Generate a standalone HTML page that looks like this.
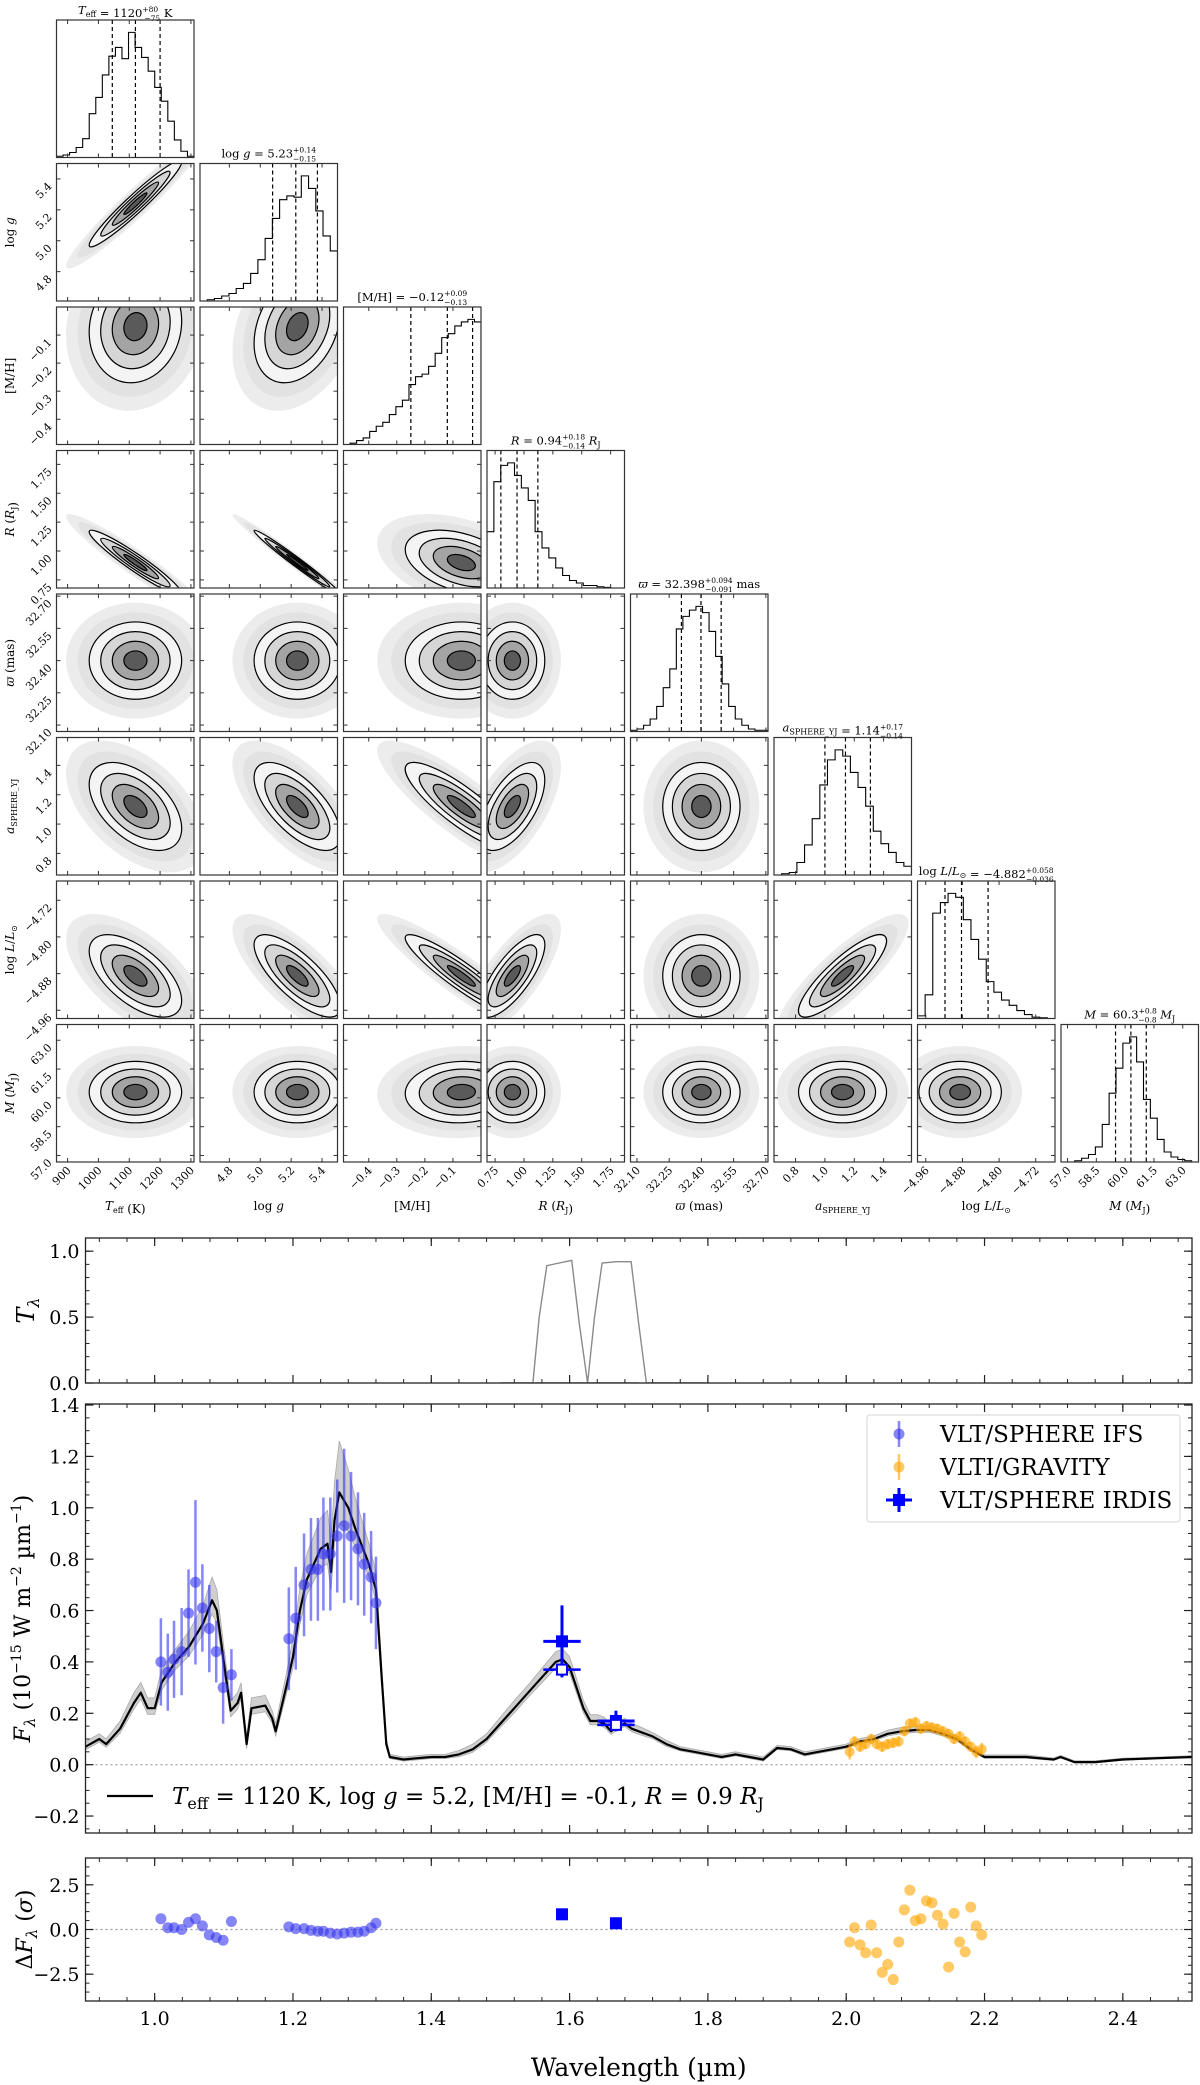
<!DOCTYPE html>
<html><head><meta charset="utf-8"><title>Posterior corner plot and SED fit</title>
<style>
html,body{margin:0;padding:0;background:#fff;}
svg{display:block;font-family:"DejaVu Serif","Liberation Serif",serif;}
</style></head>
<body>
<svg id="fig" xmlns="http://www.w3.org/2000/svg" width="1200" height="2085" viewBox="0 0 1200 2085">
<defs id="defs"></defs>
<g id="corner"></g>
<g id="spec"></g>
</svg>
<script>
// ---------------- Corner plot data ----------------
const paramNames = ['Teff','logg','MH','R','plx','a','L','M'];
const axisLow  = [864, 4.61, -0.49, 0.68, 32.07, 0.653, -4.978, 56.66];
const axisHigh = [1310, 5.50, 0.0, 1.87, 32.71, 1.59, -4.678, 63.82];
const tickTeff = [900,1000,1100,1200,1300];
const tickLogg = [4.8,5.0,5.2,5.4];
const tickMH   = [-0.4,-0.3,-0.2,-0.1];
const tickR    = [0.75,1.00,1.25,1.50,1.75];
const tickPlx  = [32.10,32.25,32.40,32.55,32.70];
const tickA    = [0.8,1.0,1.2,1.4];
const tickL    = [-4.96,-4.88,-4.80,-4.72];
const tickM    = [57.0,58.5,60.0,61.5,63.0];
const tickDecimals = [0,1,1,2,2,1,2,1];
const medians = [1120, 5.23, -0.12, 0.94, 32.398, 1.14, -4.882, 60.3];
const errLow  = [75, 0.15, 0.13, 0.14, 0.091, 0.14, 0.036, 0.8];
const errHigh = [80, 0.14, 0.09, 0.18, 0.094, 0.17, 0.058, 0.8];
const cloudCenter = [1120, 5.24, -0.07, 0.90, 32.40, 1.12, -4.885, 60.3];
const cloudSpread = [75, 0.14, 0.10, 0.14, 0.09, 0.15, 0.045, 0.8];
const corrLogg = [0.96];
const corrMH   = [0.1, 0.3];
const corrR    = [-0.95, -0.985, -0.4];
const corrPlx  = [0, 0, 0, 0];
const corrA    = [-0.5, -0.65, -0.85, 0.6, 0];
const corrL    = [-0.6, -0.75, -0.92, 0.75, 0, 0.85];
const corrM    = [0, 0, 0.05, 0, 0, 0, 0];
const histTeff = [0.01,0.02,0.04,0.08,0.15,0.35,0.48,0.66,0.81,0.88,0.79,1.0,0.88,0.80,0.69,0.56,0.45,0.29,0.14,0.05,0.01];
const histLogg = [0,0.01,0.02,0.04,0.06,0.10,0.14,0.22,0.33,0.50,0.66,0.81,0.84,0.83,1.0,0.90,0.72,0.52,0.40];
const histMH   = [0,0.01,0.03,0.05,0.10,0.14,0.17,0.23,0.29,0.34,0.46,0.52,0.54,0.60,0.70,0.82,0.85,0.91,0.94,0.96,0.94];
const histR    = [0.45,0.85,0.98,1.0,0.9,0.8,0.7,0.45,0.32,0.24,0.16,0.1,0.06,0.04,0.02,0.02,0.01,0.005,0,0];
const histPlx  = [0.01,0.02,0.05,0.1,0.2,0.35,0.5,0.82,0.92,0.97,1.0,0.95,0.8,0.6,0.38,0.2,0.1,0.05,0.02,0.01,0.01];
const histA    = [0,0.01,0.02,0.1,0.24,0.45,0.72,0.92,1.0,0.95,0.82,0.7,0.55,0.35,0.25,0.18,0.1,0.07];
const histL    = [0.02,0.18,0.8,0.88,0.95,0.92,0.75,0.6,0.45,0.28,0.2,0.14,0.1,0.06,0.03,0.01,0.005,0];
const histM    = [0,0,0.01,0.03,0.06,0.12,0.3,0.55,0.75,0.95,1.0,0.8,0.5,0.35,0.18,0.08,0.04,0.02,0.01,0];

// ---------------- Spectrum data ----------------
const specWave = [0.90,0.92,0.93,0.95,0.97,0.98,0.99,1.00,1.01,1.03,1.05,1.07,1.083,1.09,1.10,1.11,1.12,1.125,1.133,1.14,1.16,1.17,1.175,1.19,1.20,1.21,1.22,1.24,1.25,1.255,1.26,1.267,1.28,1.29,1.30,1.31,1.32,1.328,1.335,1.34,1.36,1.38,1.40,1.42,1.44,1.46,1.48,1.50,1.52,1.54,1.56,1.58,1.59,1.60,1.61,1.62,1.63,1.64,1.65,1.66,1.67,1.68,1.69,1.70,1.72,1.74,1.76,1.78,1.80,1.82,1.84,1.86,1.88,1.90,1.92,1.94,1.96,1.98,2.00,2.02,2.04,2.06,2.08,2.10,2.12,2.14,2.16,2.18,2.20,2.22,2.26,2.30,2.31,2.33,2.36,2.40,2.45,2.50];
const specFlux = [0.07,0.10,0.08,0.14,0.24,0.28,0.22,0.22,0.32,0.40,0.46,0.55,0.64,0.60,0.40,0.21,0.24,0.28,0.08,0.22,0.23,0.18,0.13,0.30,0.42,0.60,0.72,0.84,0.86,0.75,0.95,1.06,1.00,0.92,0.85,0.78,0.68,0.35,0.08,0.03,0.02,0.025,0.03,0.03,0.04,0.06,0.10,0.16,0.22,0.28,0.34,0.40,0.41,0.38,0.30,0.22,0.17,0.17,0.16,0.13,0.15,0.16,0.14,0.13,0.11,0.08,0.06,0.05,0.04,0.03,0.04,0.03,0.02,0.065,0.06,0.04,0.05,0.06,0.07,0.09,0.10,0.12,0.13,0.135,0.135,0.12,0.10,0.06,0.03,0.03,0.03,0.02,0.03,0.01,0.01,0.02,0.025,0.03];
const specSpread = [0.02,0.02,0.02,0.03,0.04,0.04,0.04,0.04,0.05,0.05,0.06,0.07,0.09,0.08,0.06,0.04,0.04,0.04,0.03,0.04,0.04,0.03,0.03,0.05,0.07,0.09,0.10,0.12,0.13,0.12,0.15,0.20,0.15,0.12,0.10,0.08,0.07,0.05,0.02,0.01,0.01,0.01,0.01,0.01,0.015,0.02,0.02,0.025,0.03,0.03,0.035,0.04,0.04,0.04,0.035,0.03,0.025,0.025,0.025,0.02,0.02,0.02,0.02,0.02,0.015,0.015,0.01,0.01,0.01,0.01,0.01,0.01,0.01,0.01,0.01,0.01,0.01,0.01,0.01,0.012,0.012,0.014,0.015,0.015,0.015,0.014,0.012,0.01,0.008,0.008,0.008,0.006,0.006,0.005,0.005,0.005,0.005,0.005];
const ifsWave = [1.009,1.019,1.028,1.039,1.049,1.059,1.069,1.079,1.089,1.099,1.111,1.194,1.204,1.216,1.226,1.236,1.244,1.254,1.264,1.274,1.284,1.294,1.303,1.313,1.320];
const ifsFlux = [0.40,0.36,0.41,0.44,0.59,0.71,0.61,0.53,0.44,0.30,0.35,0.49,0.57,0.70,0.76,0.76,0.82,0.82,0.89,0.93,0.89,0.84,0.78,0.73,0.63];
const ifsErr  = [0.17,0.15,0.15,0.17,0.17,0.32,0.17,0.17,0.12,0.14,0.10,0.20,0.20,0.20,0.20,0.20,0.22,0.22,0.22,0.30,0.25,0.22,0.20,0.18,0.18];
const ifsResid = [0.6,0.1,0.1,0.0,0.4,0.6,0.2,-0.3,-0.45,-0.6,0.45,0.15,0.05,0.05,-0.05,-0.1,-0.1,-0.2,-0.25,-0.2,-0.15,-0.15,-0.1,0.1,0.35];
const gravWave = [2.005,2.012,2.020,2.028,2.036,2.044,2.052,2.060,2.068,2.076,2.084,2.092,2.100,2.108,2.116,2.124,2.132,2.140,2.148,2.156,2.164,2.172,2.180,2.188,2.196];
const gravFlux = [0.05,0.09,0.07,0.08,0.10,0.08,0.07,0.08,0.085,0.09,0.13,0.16,0.165,0.14,0.15,0.145,0.14,0.13,0.12,0.10,0.11,0.09,0.07,0.05,0.06];
const gravErr  = [0.03,0.02,0.02,0.02,0.02,0.02,0.02,0.02,0.02,0.02,0.02,0.02,0.02,0.02,0.02,0.02,0.02,0.02,0.02,0.02,0.02,0.02,0.02,0.025,0.025];
const gravResid = [-0.7,0.1,-0.85,-1.3,0.25,-1.3,-2.4,-1.95,-2.8,-0.7,1.1,2.2,0.5,0.6,1.6,1.5,0.8,0.3,-2.1,0.9,-0.7,-1.25,1.25,0.2,-0.3];
const irdisWave = [1.589, 1.667];
const irdisWidth = [0.027, 0.027];
const irdisFlux = [0.48, 0.17];
const irdisErr = [0.14, 0.04];
const irdisModel = [0.37, 0.155];
const irdisResid = [0.85, 0.35];
const h2Wave = [1.50,1.547,1.556,1.567,1.585,1.603,1.614,1.626,1.70];
const h2Trans = [0,0,0.5,0.89,0.91,0.93,0.45,0,0];
const h3Wave = [1.55,1.626,1.636,1.647,1.668,1.689,1.700,1.711,1.80];
const h3Trans = [0,0,0.5,0.91,0.92,0.92,0.45,0,0];
const waveTicks = [1.0,1.2,1.4,1.6,1.8,2.0,2.2,2.4];
const transTicks = [0.0,0.5,1.0];
const fluxTicks = [-0.2,0.0,0.2,0.4,0.6,0.8,1.0,1.2,1.4];
const residTicks = [-2.5,0.0,2.5];

const NS = 'http://www.w3.org/2000/svg';
function mk(tag, attrs, parent){ const e=document.createElementNS(NS,tag); for(const k in attrs) e.setAttribute(k, attrs[k]); parent.appendChild(e); return e; }
function fmt(v,d){ return v.toFixed(d).replace('-','\u2212'); }

// ============== CORNER ==============
const corner = document.getElementById('corner');
const defs = document.getElementById('defs');
const tickSets = [tickTeff,tickLogg,tickMH,tickR,tickPlx,tickA,tickL,tickM];
const hists = [histTeff,histLogg,histMH,histR,histPlx,histA,histL,histM];
const corrRows = [[],corrLogg,corrMH,corrR,corrPlx,corrA,corrL,corrM];
const sub = (t)=>'<tspan font-size="8" dy="3">'+t+'</tspan><tspan dy="-3"></tspan>';
const it = (t)=>'<tspan font-style="italic">'+t+'</tspan>';
const axisLabels = [
  it('T')+sub('eff')+' (K)',
  'log '+it('g'),
  '[M/H]',
  it('R')+' ('+it('R')+sub('J')+')',
  it('ϖ')+' (mas)',
  it('a')+sub('SPHERE_YJ'),
  'log '+it('L')+'/'+it('L')+sub('⊙'),
  it('M')+' ('+it('M')+sub('J')+')'
];
const titlePrefix = [it('T')+sub('eff')+' = ', 'log '+it('g')+' = ', '[M/H] = ', it('R')+' = ', it('ϖ')+' = ', it('a')+sub('SPHERE_YJ')+' = ', 'log '+it('L')+'/'+it('L')+sub('⊙')+' = ', it('M')+' = '];
const titleVal = ['1120','5.23','\u22120.12','0.94','32.398','1.14','\u22124.882','60.3'];
const titlePlus = ['+80','+0.14','+0.09','+0.18','+0.094','+0.17','+0.058','+0.8'];
const titleMinus = ['\u221275','\u22120.15','\u22120.13','\u22120.14','\u22120.091','\u22120.14','\u22120.036','\u22120.8'];
const titleUnit = [' K','','',' '+it('R')+sub('J'),' mas','','',' '+it('M')+sub('J')];

const CX0=56.5, CY0=20, CS=137.5, CP=143.5;
function cx(j,v){ return CX0+j*CP+(v-axisLow[j])/(axisHigh[j]-axisLow[j])*CS; }
function cy(i,v){ return CY0+i*CP+CS-(v-axisLow[i])/(axisHigh[i]-axisLow[i])*CS; }

for(let i=0;i<8;i++){
  for(let j=0;j<=i;j++){
    const px=CX0+j*CP, py=CY0+i*CP;
    const g = mk('g',{},corner);
    
    
    const cp = mk('clipPath',{id:'cp'+i+'_'+j},defs);
    mk('rect',{x:px,y:py,width:CS,height:CS},cp);
    const inner = mk('g',{'clip-path':'url(#cp'+i+'_'+j+')'},g);
    if(i===j){
      const h = hists[i], n=h.length, bw=CS/n, mx=Math.max(...h);
      let d='M'+px+','+(py+CS);
      for(let k=0;k<n;k++){ const y=py+CS-h[k]/mx*CS*0.91; d+=' L'+(px+k*bw)+','+y+' L'+(px+(k+1)*bw)+','+y; }
      d+=' L'+(px+CS)+','+(py+CS);
      const p = mk('path',{d:d,fill:'none',stroke:'#000','stroke-width':1.1},inner);
      
      
      [medians[i]-errLow[i], medians[i], medians[i]+errHigh[i]].forEach(v=>{
        const x=cx(j,v);
        const l = mk('line',{x1:x,x2:x,y1:py,y2:py+CS,stroke:'#000','stroke-width':1.2,'stroke-dasharray':'4,3'},inner);
        
        
      });
      const t = mk('text',{x:px+CS/2,y:py-6,'text-anchor':'middle','font-size':11.5},g);
      const uid=i;
      t.innerHTML = titlePrefix[i]+titleVal[i]+'<tspan font-size="7.5" dy="-5">'+titlePlus[i]+'</tspan><tspan font-size="7.5" dx="-'+(titlePlus[i].length*4.6)+'" dy="9">'+titleMinus[i]+'</tspan><tspan dy="-4">'+titleUnit[i]+'</tspan>';
      
      
    } else {
      const rho = corrRows[i][j];
      const sxp = cloudSpread[j]/(axisHigh[j]-axisLow[j])*CS;
      const syp = cloudSpread[i]/(axisHigh[i]-axisLow[i])*CS;
      const a=sxp*sxp, c=syp*syp, b=-rho*sxp*syp;
      const th = 0.5*Math.atan2(2*b, a-c)*180/Math.PI;
      const m=(a+c)/2, r=Math.sqrt(((a-c)/2)**2+b*b);
      const rx=Math.sqrt(m+r), ry=Math.sqrt(Math.max(m-r,0.4));
      const ex=cx(j,cloudCenter[j]), ey=cy(i,cloudCenter[i]);
      const levels=[[3.0,'#ececec','none'],[2.5,'#e2e2e2','none'],[2.0,'#f4f4f4','#000'],[1.5,'#d6d6d6','#000'],[1.0,'#a4a4a4','#000'],[0.5,'#5a5a5a','#000']];
      levels.forEach(L=>{
        const e = mk('ellipse',{cx:ex,cy:ey,rx:rx*L[0],ry:ry*L[0],fill:L[1],stroke:L[2],'stroke-width':1.2,transform:'rotate('+th+' '+ex+' '+ey+')'},inner);
        
        
      });
    }
    const fr = mk('rect',{x:px,y:py,width:CS,height:CS,fill:'none',stroke:'#333','stroke-width':1.2},g);
    
    
    tickSets[j].forEach(v=>{ const x=cx(j,v);
      mk('line',{x1:x,x2:x,y1:py,y2:py+4,stroke:'#333','stroke-width':1},g);
      mk('line',{x1:x,x2:x,y1:py+CS,y2:py+CS-4,stroke:'#333','stroke-width':1},g); });
    if(i!==j) tickSets[i].forEach(v=>{ const y=cy(i,v);
      mk('line',{x1:px,x2:px+4,y1:y,y2:y,stroke:'#333','stroke-width':1},g);
      mk('line',{x1:px+CS,x2:px+CS-4,y1:y,y2:y,stroke:'#333','stroke-width':1},g); });
    if(i===7){
      tickSets[j].forEach(v=>{ const x=cx(j,v)+4, y=py+CS+9;
        const t=mk('text',{x:x,y:y,'text-anchor':'end','font-size':11,transform:'rotate(-45 '+x+' '+y+')'},g);
        t.textContent=fmt(v,tickDecimals[j]);
        
         });
      const xl=mk('text',{x:px+CS/2,y:1210,'text-anchor':'middle','font-size':12},g);
      xl.innerHTML=axisLabels[j];
      
      
    }
    if(j===0 && i>0){
      tickSets[i].forEach(v=>{ const x=px-4, y=cy(i,v)+8;
        const t=mk('text',{x:x,y:y,'text-anchor':'end','font-size':11,transform:'rotate(-45 '+x+' '+y+')'},g);
        t.textContent=fmt(v,tickDecimals[i]);
        
         });
      const yx=14, yy=py+CS/2;
      const yl=mk('text',{x:yx,y:yy,'text-anchor':'middle','font-size':12,transform:'rotate(-90 '+yx+' '+yy+')'},g);
      yl.innerHTML=axisLabels[i];
      
      
    }
  }
}

// ============== SPECTRUM ==============
const spec = document.getElementById('spec');
const XL=85.5, XR=1192, WMIN=0.9, WMAX=2.5;
function X(w){ return XL+(w-WMIN)/(WMAX-WMIN)*(XR-XL); }
const panels = {
  trans:{top:1238,bot:1383,min:0,max:1.1,ticks:transTicks,minor:0.1,dec:1},
  flux:{top:1404,bot:1833,min:-0.266,max:1.404,ticks:fluxTicks,minor:0.05,dec:1},
  resid:{top:1858,bot:2001,min:-4,max:4,ticks:residTicks,minor:0.5,dec:1}
};
function Y(p,v){ return p.bot-(v-p.min)/(p.max-p.min)*(p.bot-p.top); }
function axes(p,name,showX){
  const g=mk('g',{},spec);
  
  
  for(let w=0.92;w<2.5;w+=0.04){ const x=X(w);
    mk('line',{x1:x,x2:x,y1:p.bot,y2:p.bot-4,stroke:'#222','stroke-width':1},g);
    mk('line',{x1:x,x2:x,y1:p.top,y2:p.top+4,stroke:'#222','stroke-width':1},g); }
  waveTicks.forEach(w=>{ const x=X(w);
    mk('line',{x1:x,x2:x,y1:p.bot,y2:p.bot-8,stroke:'#222','stroke-width':1.2},g);
    mk('line',{x1:x,x2:x,y1:p.top,y2:p.top+8,stroke:'#222','stroke-width':1.2},g);
    if(showX){ const t=mk('text',{x:x,y:2025,'text-anchor':'middle','font-size':19},g); t.textContent=w.toFixed(1);
      
       } });
  const start=Math.ceil(p.min/p.minor)*p.minor;
  for(let v=start; v<=p.max+1e-9; v+=p.minor){ const y=Y(p,v);
    mk('line',{x1:XL,x2:XL+4,y1:y,y2:y,stroke:'#222','stroke-width':1},g);
    mk('line',{x1:XR,x2:XR-4,y1:y,y2:y,stroke:'#222','stroke-width':1},g); }
  p.ticks.forEach(v=>{ const y=Y(p,v);
    mk('line',{x1:XL,x2:XL+8,y1:y,y2:y,stroke:'#222','stroke-width':1.2},g);
    mk('line',{x1:XR,x2:XR-8,y1:y,y2:y,stroke:'#222','stroke-width':1.2},g);
    const t=mk('text',{x:XL-6,y:y+7,'text-anchor':'end','font-size':19},g); t.textContent=fmt(v,p.dec);
    
     });
  const fr=mk('rect',{x:XL,y:p.top,width:XR-XL,height:p.bot-p.top,fill:'none',stroke:'#222','stroke-width':1.3},g);
  
  
}
function clip(p,id){ const c=mk('clipPath',{id:id},defs); mk('rect',{x:XL,y:p.top,width:XR-XL,height:p.bot-p.top},c); return 'url(#'+id+')'; }
function pathOf(p,ws,vs){ return ws.map((w,k)=>(k?'L':'M')+X(w).toFixed(1)+','+Y(p,vs[k]).toFixed(1)).join(' '); }

// Transmission panel
{
  const p=panels.trans;
  const g=mk('g',{'clip-path':clip(p,'ctr')},spec);
  
  
  const a=mk('path',{d:pathOf(p,h2Wave,h2Trans),fill:'none',stroke:'#8a8a8a','stroke-width':1.4},g);
  
  
  const b=mk('path',{d:pathOf(p,h3Wave,h3Trans),fill:'none',stroke:'#8a8a8a','stroke-width':1.4},g);
  
  
  axes(p,'transmission',false);
  const t=mk('text',{x:34,y:(p.top+p.bot)/2,'text-anchor':'middle','font-size':24,transform:'rotate(-90 34 '+(p.top+p.bot)/2+')'},spec);
  t.innerHTML='<tspan font-style="italic">T</tspan><tspan font-size="16" font-style="italic" dy="5">λ</tspan>';
  
  
}
// Flux panel
{
  const p=panels.flux;
  const g=mk('g',{'clip-path':clip(p,'cfl')},spec);
  
  
  const z=mk('line',{x1:XL,x2:XR,y1:Y(p,0),y2:Y(p,0),stroke:'#999','stroke-width':1.2,'stroke-dasharray':'2,3'},g);
  
  
  let d=specWave.map((w,k)=>(k?'L':'M')+X(w).toFixed(1)+','+Y(p,specFlux[k]+specSpread[k]).toFixed(1)).join(' ');
  for(let k=specWave.length-1;k>=0;k--) d+=' L'+X(specWave[k]).toFixed(1)+','+Y(p,specFlux[k]-specSpread[k]*0.6).toFixed(1);
  const band=mk('path',{d:d+' Z',fill:'#cfcfcf',stroke:'#aaa','stroke-width':0.8},g);
  
  
  const ml=mk('path',{d:pathOf(p,specWave,specFlux),fill:'none',stroke:'#000','stroke-width':2.2,'stroke-linejoin':'round'},g);
  
  
  ifsWave.forEach((w,k)=>{ const x=X(w);
    const e=mk('line',{x1:x,x2:x,y1:Y(p,ifsFlux[k]-ifsErr[k]),y2:Y(p,ifsFlux[k]+ifsErr[k]),stroke:'#3333ee','stroke-opacity':0.6,'stroke-width':2.5},g);
    
    
    const c=mk('circle',{cx:x,cy:Y(p,ifsFlux[k]),r:5.5,fill:'#3333ee','fill-opacity':0.6},g);
    
     });
  gravWave.forEach((w,k)=>{ const x=X(w);
    const e=mk('line',{x1:x,x2:x,y1:Y(p,gravFlux[k]-gravErr[k]),y2:Y(p,gravFlux[k]+gravErr[k]),stroke:'#ffa500','stroke-opacity':0.6,'stroke-width':2.5},g);
    
    
    const c=mk('circle',{cx:x,cy:Y(p,gravFlux[k]),r:5,fill:'#ffa500','fill-opacity':0.6},g);
    
     });
  irdisWave.forEach((w,k)=>{ const x=X(w), y=Y(p,irdisFlux[k]);
    const ex=mk('line',{x1:X(w-irdisWidth[k]),x2:X(w+irdisWidth[k]),y1:y,y2:y,stroke:'#0000ff','stroke-width':3},g);
    
    
    const ey=mk('line',{x1:x,x2:x,y1:Y(p,irdisFlux[k]-irdisErr[k]),y2:Y(p,irdisFlux[k]+irdisErr[k]),stroke:'#0000ff','stroke-width':3},g);
    
    
    const s=mk('rect',{x:x-6,y:y-6,width:12,height:12,fill:'#0000ff'},g);
    
    
    const ym=Y(p,irdisModel[k]);
    const mx=mk('line',{x1:X(w-irdisWidth[k]),x2:X(w+irdisWidth[k]),y1:ym,y2:ym,stroke:'#0000ff','stroke-width':2.5},g);
    
    
    const o=mk('rect',{x:x-5,y:ym-5,width:10,height:10,fill:'#fff',stroke:'#0000ff','stroke-width':2},g);
    
     });
  axes(p,'flux',false);
  const cy0=(p.top+p.bot)/2;
  const t=mk('text',{x:30,y:cy0,'text-anchor':'middle','font-size':22,transform:'rotate(-90 30 '+cy0+')'},spec);
  t.innerHTML='<tspan font-style="italic">F</tspan><tspan font-size="15" font-style="italic" dy="5">λ</tspan><tspan dy="-5"> (10</tspan><tspan font-size="14" dy="-9">−15</tspan><tspan dy="9"> W m</tspan><tspan font-size="14" dy="-9">−2</tspan><tspan dy="9"> µm</tspan><tspan font-size="14" dy="-9">−1</tspan><tspan dy="9">)</tspan>';
  
  
  // legend
  const lg=mk('g',{},spec);
  
  
  mk('rect',{x:867,y:1415,width:313,height:107,rx:3,fill:'#fff','fill-opacity':0.85,stroke:'#ddd','stroke-width':1.2},lg);
  const entries=[['VLT/SPHERE IFS',1442],['VLTI/GRAVITY',1475],['VLT/SPHERE IRDIS',1508]];
  entries.forEach((en,k)=>{
    const e=mk('g',{},lg);
    
    
    const yc=en[1]-8;
    if(k===0){ mk('line',{x1:899,x2:899,y1:yc-13,y2:yc+13,stroke:'#3333ee','stroke-opacity':0.6,'stroke-width':2.5},e); mk('circle',{cx:899,cy:yc,r:5.5,fill:'#3333ee','fill-opacity':0.6},e); }
    if(k===1){ mk('line',{x1:899,x2:899,y1:yc-13,y2:yc+13,stroke:'#ffa500','stroke-opacity':0.6,'stroke-width':2.5},e); mk('circle',{cx:899,cy:yc,r:5.5,fill:'#ffa500','fill-opacity':0.6},e); }
    if(k===2){ mk('line',{x1:886,x2:912,y1:yc,y2:yc,stroke:'#0000ff','stroke-width':3},e); mk('line',{x1:899,x2:899,y1:yc-12,y2:yc+12,stroke:'#0000ff','stroke-width':3},e); mk('rect',{x:893,y:yc-6,width:12,height:12,fill:'#0000ff'},e); }
    const t=mk('text',{x:940,y:en[1],'font-size':23},e); t.textContent=en[0];
  });
  const ml2=mk('g',{},spec);
  
  
  mk('line',{x1:107,x2:153,y1:1796,y2:1796,stroke:'#000','stroke-width':2.2},ml2);
  const mt=mk('text',{x:172,y:1804,'font-size':23},ml2);
  mt.innerHTML='<tspan font-style="italic">T</tspan><tspan font-size="16" dy="5">eff</tspan><tspan dy="-5"> = 1120 K, log</tspan><tspan font-style="italic"> g</tspan> = 5.2, [M/H] = -0.1, <tspan font-style="italic">R</tspan> = 0.9 <tspan font-style="italic">R</tspan><tspan font-size="16" dy="5">J</tspan>';
}
// Residual panel
{
  const p=panels.resid;
  const g=mk('g',{'clip-path':clip(p,'crs')},spec);
  
  
  const z=mk('line',{x1:XL,x2:XR,y1:Y(p,0),y2:Y(p,0),stroke:'#999','stroke-width':1.2,'stroke-dasharray':'2,3'},g);
  
  
  ifsWave.forEach((w,k)=>{ const c=mk('circle',{cx:X(w),cy:Y(p,ifsResid[k]),r:5.5,fill:'#3333ee','fill-opacity':0.6},g);
    
     });
  gravWave.forEach((w,k)=>{ const c=mk('circle',{cx:X(w),cy:Y(p,gravResid[k]),r:5.5,fill:'#ffa500','fill-opacity':0.6},g);
    
     });
  irdisWave.forEach((w,k)=>{ const s=mk('rect',{x:X(w)-6,y:Y(p,irdisResid[k])-6,width:12,height:12,fill:'#0000ff'},g);
    
     });
  axes(p,'residual',true);
  const cy0=(p.top+p.bot)/2;
  const t=mk('text',{x:32,y:cy0,'text-anchor':'middle','font-size':22,transform:'rotate(-90 32 '+cy0+')'},spec);
  t.innerHTML='Δ<tspan font-style="italic">F</tspan><tspan font-size="15" font-style="italic" dy="5">λ</tspan><tspan dy="-5"> (</tspan><tspan font-style="italic">σ</tspan>)';
  
  
  const xl=mk('text',{x:(XL+XR)/2,y:2076,'text-anchor':'middle','font-size':25},spec);
  xl.textContent='Wavelength (µm)';
  
  
}
</script>
</body></html>
